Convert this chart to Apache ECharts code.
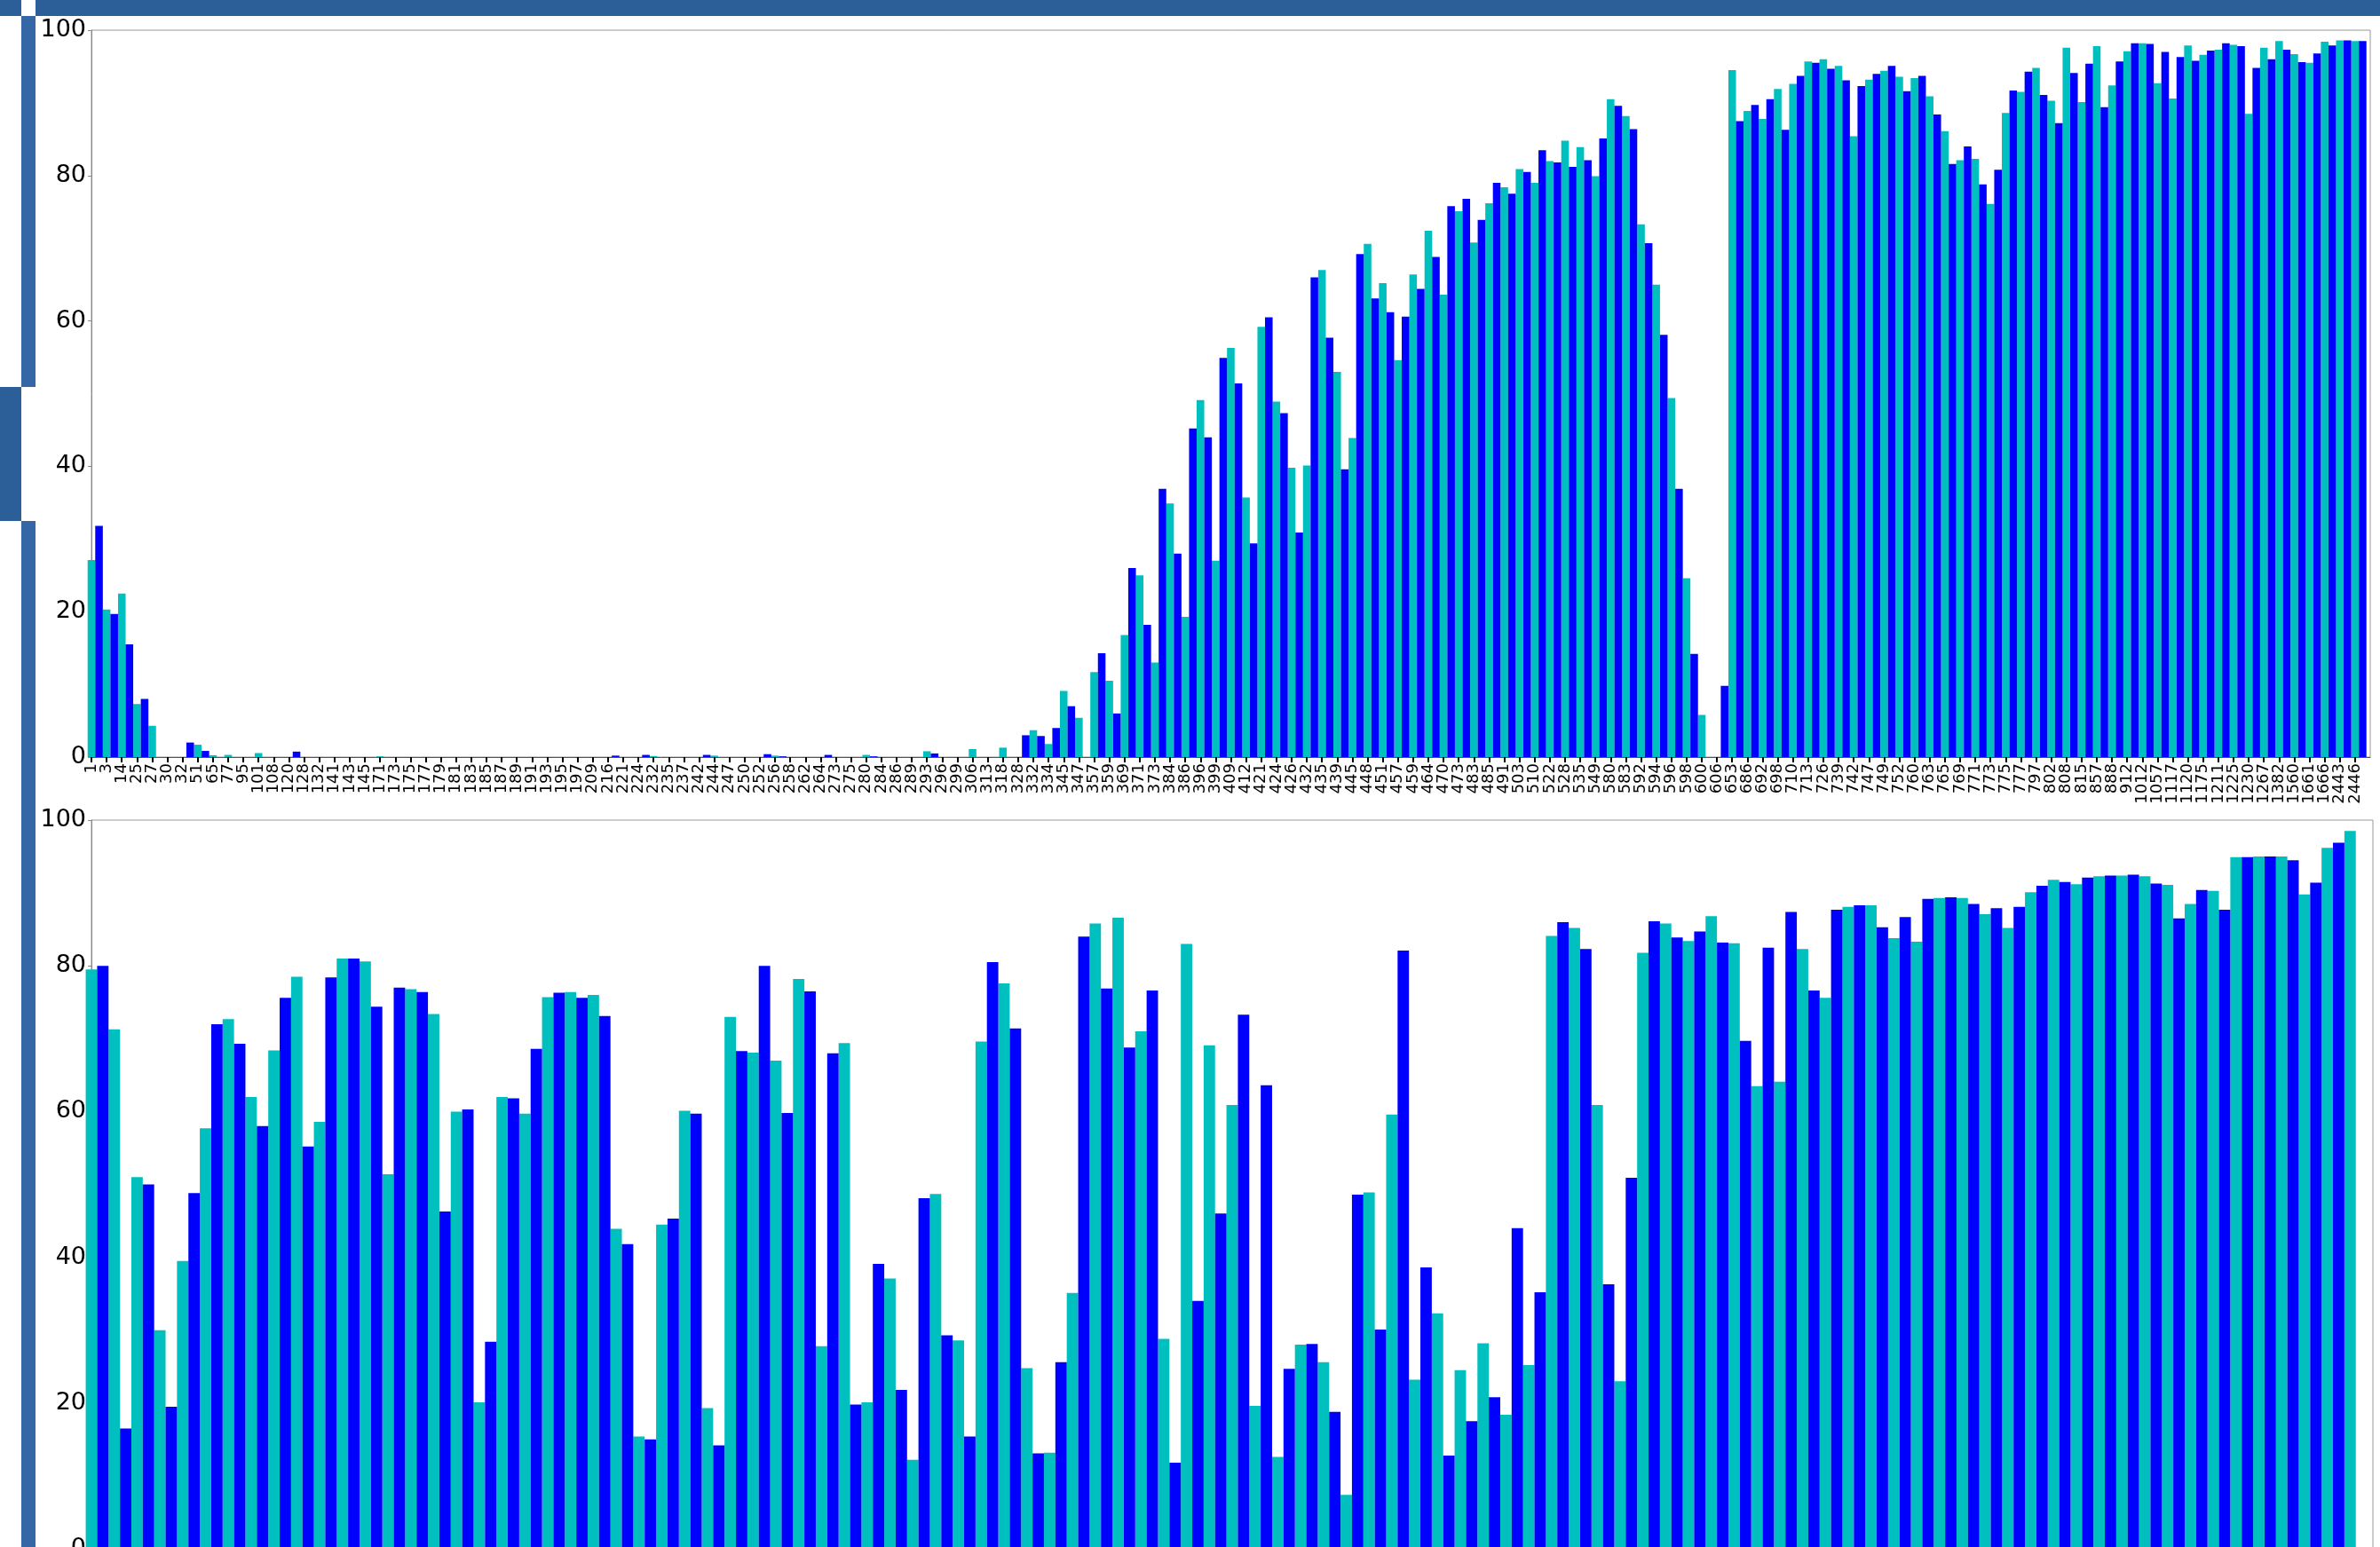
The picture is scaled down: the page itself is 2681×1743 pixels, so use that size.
<!DOCTYPE html>
<html><head><meta charset="utf-8">
<script src="https://cdn.jsdelivr.net/npm/echarts@6/dist/echarts.min.js"></script>
<style>html,body{margin:0;padding:0;background:#fff}#c{width:2681px;height:1743px}</style>
</head><body><div id="c"></div><script>
const topCategories = ['1','3','14','25','27','30','32','51','65','77','95','101','108','120','128','132','141','143','145','171','173','175','177','179','181','183','185','187','189','191','193','195','197','209','216','221','224','232','235','237','242','244','247','250','252','256','258','262','264','273','275','280','284','286','289','293','296','299','306','313','318','328','332','334','345','347','357','359','369','371','373','384','386','396','399','409','412','421','424','426','432','435','439','445','448','451','457','459','464','470','473','483','485','491','503','510','522','528','535','549','580','583','592','594','596','598','600','606','653','686','692','698','710','713','726','739','742','747','749','752','760','763','765','769','771','773','775','777','797','802','808','815','857','888','912','1012','1057','1117','1120','1175','1211','1225','1230','1267','1382','1560','1661','1666','2443','2446'];

const topCyan = [27.1,20.3,22.5,7.3,4.3,0,0,1.7,0.25,0.3,
0,0.55,0,0,0,0,0,0,0,0.1,
0,0,0,0,0,0,0,0,0,0,
0,0,0,0,0,0,0,0.15,0,0,
0,0.2,0,0,0,0.2,0,0,0,0,
0,0.3,0,0,0,0.8,0,0,1.1,0,
1.3,0,3.7,1.8,9.1,5.4,11.7,10.5,16.8,25.0,
13.0,34.9,19.3,49.1,27.0,56.3,35.7,59.2,48.9,39.8,
40.1,67.0,53.0,43.9,70.6,65.2,54.6,66.4,72.4,63.6,
75.1,70.8,76.2,78.4,80.9,79.0,82.0,84.8,83.9,79.9,
90.5,88.2,73.3,65.0,49.4,24.6,5.8,0,94.5,88.9,
87.8,91.9,92.6,95.7,96.0,95.1,85.4,93.2,94.4,93.6,
93.4,90.9,86.1,82.1,82.3,76.1,88.6,91.5,94.8,90.3,
97.6,90.1,97.8,92.4,97.1,98.2,92.7,90.6,97.9,96.6,
97.3,98.0,88.5,97.6,98.5,96.7,95.5,98.4,98.6,98.5];

const topBlue = [31.8,19.7,15.5,8.0,0,0,2.0,0.85,0,0,
0,0,0,0.75,0,0,0,0,0,0,
0,0,0,0,0,0,0,0,0,0,
0,0,0,0,0.2,0,0.3,0,0,0,
0.3,0,0,0,0.4,0.1,0,0,0.3,0,
0,0.1,0,0,0,0.5,0,0,0,0,
0,3.0,2.9,4.0,7.0,0,14.3,6.0,26.0,18.2,
36.9,28.0,45.2,44.0,54.9,51.4,29.4,60.5,47.3,30.9,
66.0,57.7,39.6,69.2,63.1,61.2,60.6,64.4,68.8,75.8,
76.8,73.9,79.0,77.5,80.5,83.5,81.8,81.2,82.1,85.1,
89.6,86.4,70.7,58.1,36.9,14.2,0,9.8,87.5,89.7,
90.5,86.3,93.7,95.5,94.7,93.1,92.3,94.0,95.1,91.6,
93.7,88.4,81.6,84.0,78.8,80.8,91.7,94.3,91.1,87.2,
94.1,95.4,89.4,95.7,98.2,98.1,97.0,96.3,95.8,97.2,
98.2,97.8,94.8,96.0,97.3,95.6,96.8,97.9,98.6,98.5];

const bottomCyan = [79.5,71.3,51,30,39.5,57.7,72.7,62,68.4,78.5,
58.6,81,80.6,51.4,76.8,73.4,60,20.1,62,59.7,
75.7,76.4,76,43.9,15.4,44.5,60.1,19.3,73,68.1,
67,78.2,27.8,69.4,20.1,37.1,12.2,48.7,28.6,69.6,
77.6,24.8,13.2,35.1,85.8,86.6,71,28.8,83,69.1,
60.9,19.6,12.6,28,25.6,7.4,48.9,59.6,23.2,32.3,
24.5,28.2,18.4,25.2,84.1,85.2,60.9,23,81.8,85.8,
83.4,86.8,83.1,63.5,64.1,82.3,75.6,88.1,88.3,83.8,
83.3,89.3,89.3,87.1,85.2,90.1,91.8,91.2,92.3,92.4,
92.3,91.1,88.5,90.3,94.9,95.0,95.0,89.8,96.2,98.5];

const bottomBlue = [80,16.5,50,19.5,48.8,72,69.3,58,75.6,55.2,
78.4,81,74.4,77,76.4,46.3,60.3,28.4,61.8,68.6,
76.3,75.6,73.1,41.8,15,45.3,59.7,14.2,68.3,80,
59.8,76.5,68,19.8,39.1,21.8,48.1,29.3,15.4,80.5,
71.4,13.1,25.6,84,76.9,68.8,76.6,11.8,34,46,
73.3,63.6,24.7,28.1,18.8,48.6,30.1,82.1,38.6,12.8,
17.5,20.8,44,35.2,86,82.3,36.3,50.9,86.1,83.9,
84.7,83.2,69.7,82.5,87.4,76.6,87.7,88.3,85.3,86.7,
89.2,89.4,88.5,87.9,88.1,91,91.5,92.1,92.4,92.5,
91.3,86.5,90.4,87.7,94.9,95.0,94.5,91.4,96.9,null];

const yTickValues = [0, 20, 40, 60, 80, 100];

const FONT = 'DejaVu Sans';
const CYAN = '#00bfbf', BLUE = '#0000ff';
const idx = n => Array.from({length: n}, (_, i) => i);
// each category i: first bar centred on tick i, second bar right after it
const pairData = vals => vals.map((v, i) => v == null ? null : [i + 0.25, v]);

const chart = echarts.init(document.getElementById('c'));

function valueXAxis(grid, n) {
  return {
    type: 'value', gridIndex: grid, min: 0, max: n, position: 'bottom',
    axisLine: {show: true, onZero: false, lineStyle: {color: '#555', width: 1}},
    axisTick: {show: true, customValues: idx(n), length: 6, lineStyle: {color: '#000', width: 2}},
    axisLabel: {show: false},
    splitLine: {show: false}
  };
}
// label-only category axis: one slot per tick, plus an empty end slot at the right border
function labelXAxis(grid, labels) {
  return {
    type: 'category', gridIndex: grid, position: 'bottom', boundaryGap: false,
    data: labels.concat(['']),
    axisLine: {show: false}, axisTick: {show: false}, splitLine: {show: false},
    axisLabel: {interval: 0, rotate: 90, margin: 7, fontFamily: FONT, fontSize: 18, color: '#000'}
  };
}
function yAxisFor(grid) {
  return {
    type: 'value', gridIndex: grid, min: 0, max: 100, interval: 20,
    axisLine: {show: true, lineStyle: {color: '#888', width: 1}},
    axisTick: {show: true, length: 4, lineStyle: {color: '#888'}},
    axisLabel: {margin: 6, fontFamily: FONT, fontSize: 27, color: '#000',
      showMinLabel: true, showMaxLabel: true,
      formatter: v => yTickValues.includes(v) ? String(v) : ''},
    splitLine: {show: false}
  };
}
function barSeries(name, vals, color, xAxisIndex, yAxisIndex) {
  return {
    name, type: 'bar', xAxisIndex, yAxisIndex,
    data: pairData(vals), barGap: '0%', barCategoryGap: '0%',
    itemStyle: {color}, clip: true, animation: false
  };
}

chart.setOption({
  animation: false,
  backgroundColor: '#fff',
  grid: [
    {left: 103, right: 11, top: 34, height: 819, show: true, borderColor: '#999', borderWidth: 1, containLabel: false, outerBoundsMode: 'none'},
    {left: 103, right: 8, top: 924, height: 821, show: true, borderColor: '#999', borderWidth: 1, containLabel: false, outerBoundsMode: 'none'}
  ],
  xAxis: [valueXAxis(0, topCategories.length), labelXAxis(0, topCategories), valueXAxis(1, bottomCyan.length)],
  yAxis: [yAxisFor(0), yAxisFor(1)],
  series: [
    barSeries('c-top', topCyan, CYAN, 0, 0),
    barSeries('b-top', topBlue, BLUE, 0, 0),
    barSeries('c-bottom', bottomCyan, CYAN, 2, 1),
    barSeries('b-bottom', bottomBlue, BLUE, 2, 1)
  ],
  graphic: [
    {type: 'rect', shape: {x: 0, y: 0, width: 24, height: 18}, style: {fill: '#2c5f98'}, z: 100},
    {type: 'rect', shape: {x: 40, y: 0, width: 2641, height: 18}, style: {fill: '#2c5f98'}, z: 100},
    {type: 'rect', shape: {x: 24, y: 18, width: 16, height: 418}, style: {fill: '#3566a6'}, z: 100},
    {type: 'rect', shape: {x: 0, y: 436, width: 24, height: 151}, style: {fill: '#2c5f98'}, z: 100},
    {type: 'rect', shape: {x: 24, y: 587, width: 16, height: 1160}, style: {fill: '#3566a6'}, z: 100}
  ]
});
</script></body></html>
